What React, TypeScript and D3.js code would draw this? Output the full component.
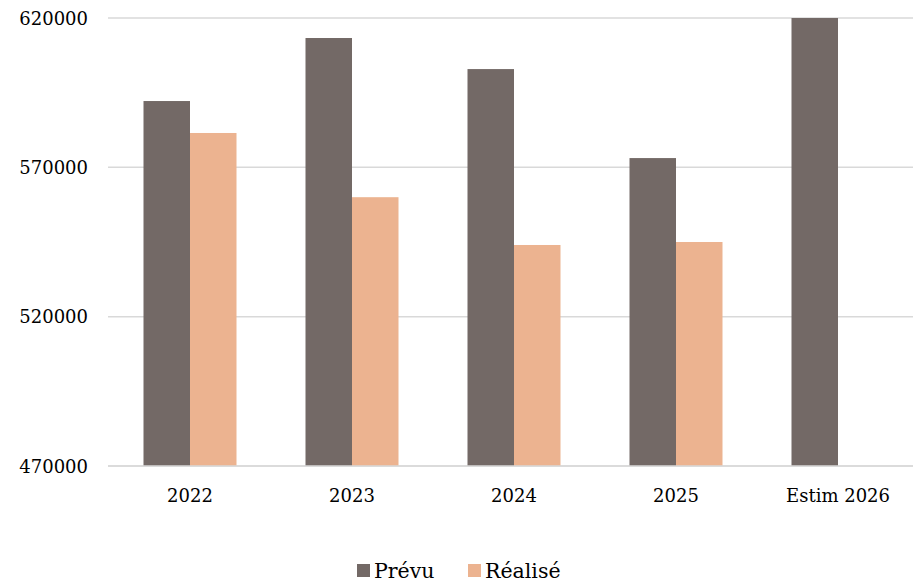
import React from "react";
import * as d3 from "d3";

const categories = ["2022", "2023", "2024", "2025", "Estim 2026"];
const prevu = [592200, 613300, 602900, 573100, 620000];
const realise: (number | null)[] = [581500, 560000, 544000, 545000, null];
const yTicks = [470000, 520000, 570000, 620000];
const seriesNames = ["Prévu", "Réalisé"];
const colors = ["#736966", "#ECB390"];

export default function App() {
  const W = 913;
  const H = 582;
  const plotLeft = 109;
  const plotRight = 919;
  const gridLeft = 108;
  const y = d3.scaleLinear().domain([470000, 620000]).range([466, 18]);
  const x = d3
    .scaleBand<string>()
    .domain(categories)
    .range([plotLeft, plotRight])
    .paddingInner(0)
    .paddingOuter(0);
  const bw = x.bandwidth();
  const groupW = bw * (93 / 162);
  const barW = groupW / 2;
  const font = "'DejaVu Serif', serif";

  return (
    <svg
      width={W}
      height={H}
      style={{ position: "absolute", left: 0, top: 0, background: "#fff" }}
    >
      {yTicks.map((t) => (
        <g key={t}>
          <line
            x1={gridLeft}
            x2={W}
            y1={y(t)}
            y2={y(t)}
            stroke="#d9d9d9"
            strokeWidth={1.5}
          />
          <text
            x={88}
            y={y(t) + 6.5}
            textAnchor="end"
            fontFamily={font}
            fontSize={18}
            fill="#000"
          >
            {t}
          </text>
        </g>
      ))}
      {categories.map((c, i) => {
        const cx = (x(c) ?? 0) + bw / 2;
        return (
          <g key={c}>
            <rect
              x={cx - barW}
              y={y(prevu[i])}
              width={barW}
              height={y(470000) - y(prevu[i])}
              fill={colors[0]}
            />
            {realise[i] != null && (
              <rect
                x={cx}
                y={y(realise[i] as number)}
                width={barW}
                height={y(470000) - y(realise[i] as number)}
                fill={colors[1]}
              />
            )}
            <text
              x={cx}
              y={502}
              textAnchor="middle"
              fontFamily={font}
              fontSize={18}
              fill="#000"
            >
              {c}
            </text>
          </g>
        );
      })}
      <line
        x1={gridLeft}
        x2={W}
        y1={y(470000)}
        y2={y(470000)}
        stroke="#d9d9d9"
        strokeWidth={1.5}
      />
      {seriesNames.map((s, i) => {
        const lx = i === 0 ? 357 : 468;
        return (
          <g key={s}>
            <rect x={lx} y={564} width={13} height={13} fill={colors[i]} />
            <text
              x={lx + 17}
              y={578}
              fontFamily={font}
              fontSize={20.5}
              fill="#000"
            >
              {s}
            </text>
          </g>
        );
      })}
    </svg>
  );
}
